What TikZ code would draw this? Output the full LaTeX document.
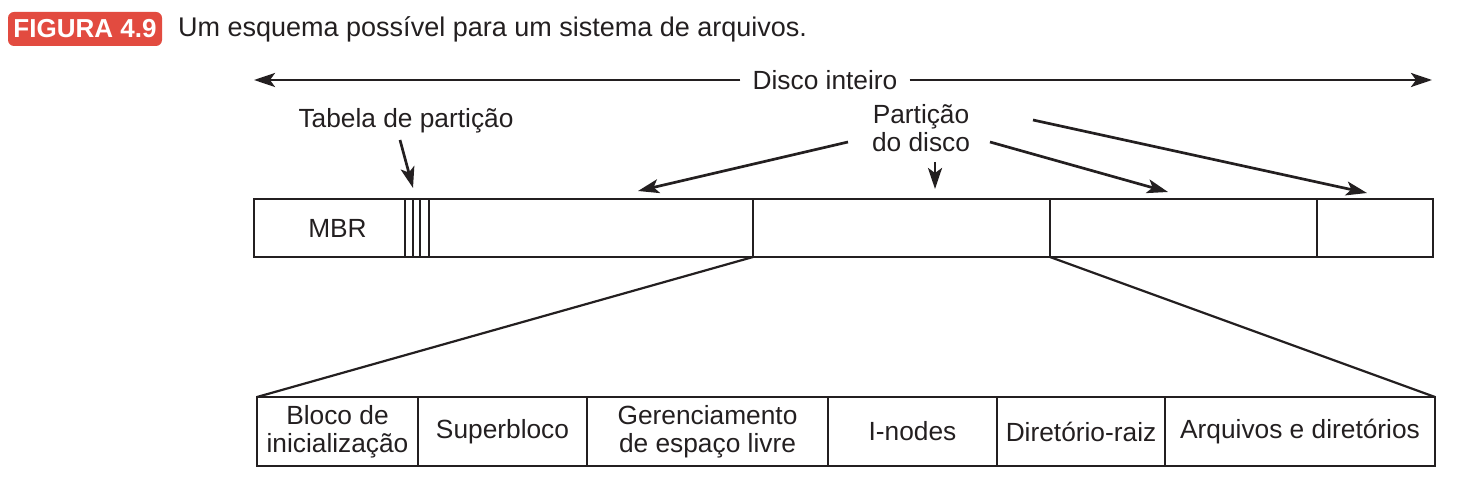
\documentclass[tikz,border=0pt]{standalone}
\usepackage{fontspec}
\setmainfont{Liberation Sans}
\usetikzlibrary{arrows.meta}
\definecolor{ink}{HTML}{231F20}
\definecolor{figred}{HTML}{E24B40}
\tikzset{
  cell/.style={draw=ink, line width=2.3pt, anchor=north west, inner sep=0pt, outer sep=0pt,
    align=center, text=ink, font=\fontsize{26.3}{28}\selectfont},
  lbl/.style={text=ink, align=center, inner sep=0pt, font=\fontsize{26.3}{28}\selectfont},
  arr/.style={draw=ink, line width=2.7pt, -{Stealth[length=21pt,width=14pt,inset=5pt]}},
  thin/.style={draw=ink, line width=2.2pt}
}
\begin{document}
\begin{tikzpicture}[x=1pt,y=-1pt]
\useasboundingbox (0,0) rectangle (1458,478);
% title
\node[fill=figred, rounded corners=6pt, minimum width=154pt, minimum height=34pt, inner sep=0pt,
  text=white, font=\fontsize{26}{28}\selectfont\bfseries] (fig) at (85,29) {FIGURA 4.9};
\node[anchor=west, inner sep=0pt, text=ink, font=\fontsize{27}{30}\selectfont] (cap) at (178,29)
  {Um esquema possível para um sistema de arquivos.};
% top bar
\node[cell, minimum width=151pt, minimum height=58pt] (mbr) at (254,199) {\hspace*{16pt}MBR};
\node[cell, minimum width=8pt, minimum height=58pt] (pt1) at (405,199) {};
\node[cell, minimum width=7pt, minimum height=58pt] (pt2) at (413,199) {};
\node[cell, minimum width=9pt, minimum height=58pt] (pt3) at (420,199) {};
\node[cell, minimum width=324pt, minimum height=58pt] (p1) at (429,199) {};
\node[cell, minimum width=297pt, minimum height=58pt] (p2) at (753,199) {};
\node[cell, minimum width=267pt, minimum height=58pt] (p3) at (1050,199) {};
\node[cell, minimum width=116pt, minimum height=58pt] (p4) at (1317,199) {};
% bottom bar
\node[cell, minimum width=161pt, minimum height=69pt] (b1) at (257,397) {Bloco de\\inicialização};
\node[cell, minimum width=169pt, minimum height=69pt] (b2) at (418,397) {Superbloco};
\node[cell, minimum width=241pt, minimum height=69pt] (b3) at (587,397) {Gerenciamento\\de espaço livre};
\node[cell, minimum width=169pt, minimum height=69pt] (b4) at (828,397) {I-nodes};
\node[cell, minimum width=168pt, minimum height=69pt] (b5) at (997,397) {Diretório-raiz};
\node[cell, minimum width=270pt, minimum height=69pt] (b6) at (1165,397) {Arquivos e diretórios};
% expansion lines
\draw[thin] (p2.south west) -- (b1.north west);
\draw[thin] (p3.south west) -- (b6.north east);
% labels
\node[lbl] (disco) at (825,80) {Disco inteiro};
\node[lbl] (tab) at (406,121) {Tabela de partição};
\node[lbl] (part) at (921,128) {Partição\\do disco};
% whole disk arrows
\coordinate (dL) at (254,80);
\coordinate (dR) at (1432,80);
\draw[arr] ([xshift=-12pt]disco.west) -- (dL);
\draw[arr] ([xshift=12pt]disco.east) -- (dR);
% partition table arrow
\coordinate (tS) at (400,140);
\coordinate (tE) at (413,188);
\draw[arr] (tS) -- (tE);
% partition arrows
\coordinate (s1) at (848,142);
\coordinate (e1) at (638,191);
\coordinate (s2) at (935,162);
\coordinate (e2) at (935,189);
\coordinate (s3) at (990,142);
\coordinate (e3) at (1168,192);
\coordinate (s4) at (1033,120);
\coordinate (e4) at (1367,193);
\draw[arr] (s1) -- (e1);
\draw[arr] (s2) -- (e2);
\draw[arr] (s3) -- (e3);
\draw[arr] (s4) -- (e4);
\end{tikzpicture}
\end{document}
